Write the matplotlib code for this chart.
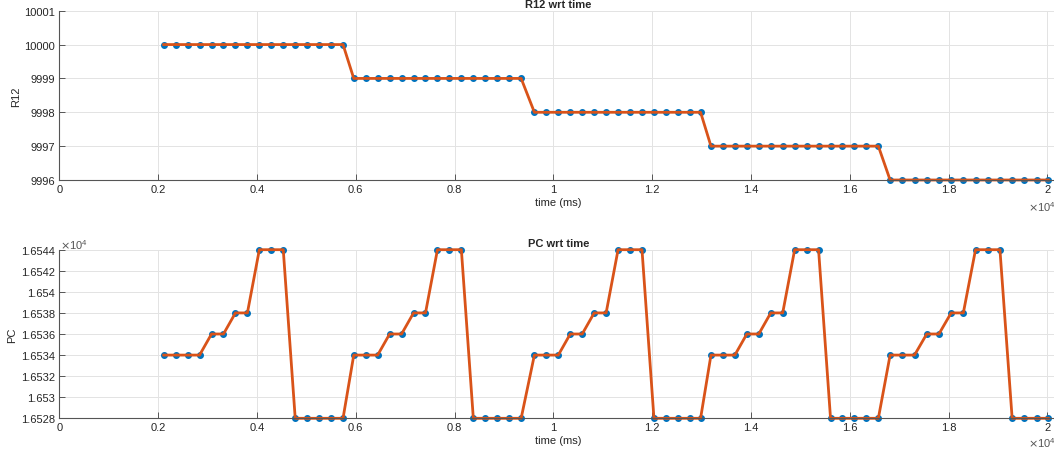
import numpy as np
import matplotlib.pyplot as plt

plt.rcParams['font.family'] = ['Liberation Sans', 'DejaVu Sans']

# sample times (ms)
time_ms = [2113, 2355, 2597, 2839, 3081, 3323, 3565, 3807, 4049, 4291,
           4533, 4775, 5017, 5259, 5501, 5743, 5960, 6202, 6444, 6686,
           6928, 7170, 7412, 7654, 7896, 8138, 8380, 8622, 8864, 9106,
           9348, 9616, 9858, 10100, 10342, 10584, 10826, 11068, 11310, 11552,
           11794, 12036, 12278, 12520, 12762, 12980, 13190, 13432, 13674, 13916,
           14158, 14400, 14642, 14884, 15126, 15368, 15610, 15852, 16094, 16336,
           16578, 16816, 17063, 17310, 17557, 17804, 18051, 18298, 18545, 18792,
           19039, 19286, 19533, 19780, 20020]

r12 = [10000] * 16 + [9999] * 15 + [9998] * 15 + [9997] * 15 + [9996] * 14

pc = ([16534] * 4 + [16536] * 2 + [16538] * 2 + [16544] * 3 + [16528] * 5 +
      [16534] * 3 + [16536] * 2 + [16538] * 2 + [16544] * 3 + [16528] * 5 +
      [16534] * 3 + [16536] * 2 + [16538] * 2 + [16544] * 3 + [16528] * 5 +
      [16534] * 3 + [16536] * 2 + [16538] * 2 + [16544] * 3 + [16528] * 5 +
      [16534] * 3 + [16536] * 2 + [16538] * 2 + [16544] * 3 + [16528] * 4)

x_ticks = [0, 2000, 4000, 6000, 8000, 10000, 12000, 14000, 16000, 18000, 20000]
x_ticklabels = ['0', '0.2', '0.4', '0.6', '0.8', '1', '1.2', '1.4', '1.6', '1.8', '2']
r12_ticks = [9996, 9997, 9998, 9999, 10000, 10001]
pc_ticks = [16528, 16530, 16532, 16534, 16536, 16538, 16540, 16542, 16544]
pc_ticklabels = ['1.6528', '1.653', '1.6532', '1.6534', '1.6536', '1.6538',
                 '1.654', '1.6542', '1.6544']

W, H = 1054, 452
fig = plt.figure(figsize=(W / 100, H / 100), dpi=100)

txt = '#262626'
blue = '#0072BD'
orange = '#D95319'
fs = 8


def style(ax):
    for s in ['top', 'right']:
        ax.spines[s].set_visible(False)
    for s in ['left', 'bottom']:
        ax.spines[s].set_color('#555555')
        ax.spines[s].set_linewidth(0.8)
    ax.tick_params(direction='in', length=4, width=0.7, colors='#555555',
                   labelcolor=txt, labelsize=fs, pad=3)
    ax.grid(True, color='#e3e3e3', linewidth=0.7)
    ax.set_axisbelow(True)
    ax.set_xlim(0, 20200)
    ax.set_xticks(x_ticks)
    ax.set_xticklabels(x_ticklabels)
    ax.set_xlabel('time (ms)', fontsize=fs, color=txt, labelpad=2)


left = 59.3 / W
width = 998 / W

ax1 = fig.add_axes([left, (H - 181) / H, width, 169.3 / H])
ax1.plot(time_ms, r12, '.', color=blue, markersize=8, clip_on=False)
ax1.plot(time_ms, r12, '-', color=orange, linewidth=2, clip_on=False)
ax1.set_ylim(9996, 10001)
ax1.set_yticks(r12_ticks)
ax1.set_yticklabels([str(v) for v in r12_ticks])
ax1.set_ylabel('R12', fontsize=fs, color=txt, labelpad=2)
ax1.set_title('R12 wrt time', fontsize=fs, fontweight='bold', color=txt, pad=3)
style(ax1)

ax2 = fig.add_axes([left, (H - 419.3) / H, width, 168.6 / H])
ax2.plot(time_ms, pc, '.', color=blue, markersize=8, clip_on=False)
ax2.plot(time_ms, pc, '-', color=orange, linewidth=2, clip_on=False)
ax2.set_ylim(16528, 16544)
ax2.set_yticks(pc_ticks)
ax2.set_yticklabels(pc_ticklabels)
ax2.set_ylabel('PC', fontsize=fs, color=txt, labelpad=3)
ax2.set_title('PC wrt time', fontsize=fs, fontweight='bold', color=txt, pad=3)
style(ax2)

# MATLAB style exponent labels
fig.text(1028 / W, 1 - 207 / H, r'$\times\mathregular{10^4}$', fontsize=fs,
         color='#555555', va='center', ha='left')
fig.text(1028 / W, 1 - 443 / H, r'$\times\mathregular{10^4}$', fontsize=fs,
         color='#555555', va='center', ha='left')
fig.text(60 / W, 1 - 245 / H, r'$\times\mathregular{10^4}$', fontsize=fs,
         color='#555555', va='center', ha='left')

fig.savefig('out.png', dpi=100)
